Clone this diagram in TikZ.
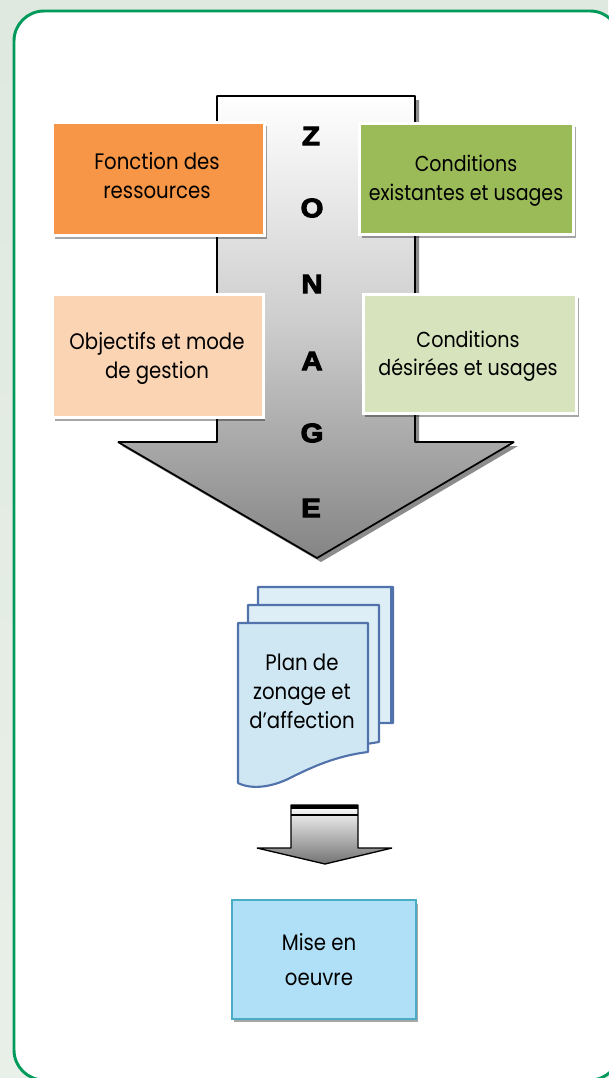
\documentclass[tikz,border=0pt]{standalone}
\usepackage{fontspec}
\setmainfont{Poppins}[FakeStretch=0.88]
\newfontfamily\lettrefont{Liberation Sans}[BoldFeatures={FakeStretch=1.1,FakeBold=4}]
\usepackage{tikz}
\usetikzlibrary{shadows,positioning}
\definecolor{fondvert}{HTML}{DFE9DF}
\definecolor{cadrevert}{HTML}{009B5A}
\definecolor{orange1}{HTML}{F79646}
\definecolor{orange2}{HTML}{FBD4B4}
\definecolor{vert1}{HTML}{9BBB59}
\definecolor{vert2}{HTML}{D7E3BC}
\definecolor{bleu1}{HTML}{AFE0F7}
\definecolor{bleu2}{HTML}{4BACC6}
\definecolor{feuille}{HTML}{CFE7F3}
\definecolor{feuillebord}{HTML}{5272AB}
\tikzset{
	ombre/.style={drop shadow={shadow xshift=1.5pt,shadow yshift=-2.5pt,fill=black,opacity=.35}},
	boite/.style={draw=white,line width=2.2pt,ombre,inner sep=0pt},
	lettre/.style={inner sep=0pt,font=\lettrefont\bfseries\fontsize{20}{22}\selectfont},
	texte/.style={inner sep=0pt,align=center,font=\fontsize{16.8}{21.7}\selectfont},
	feuillet/.style={draw=feuillebord,line width=1.6pt,fill=feuille!70!white,line join=round}
}
\begin{document}
\begin{tikzpicture}[x=0.75pt,y=-0.75pt]
	\useasboundingbox (0,0) rectangle (608,1078);
	\shade[top color=fondvert,bottom color=fondvert!70!white] (0,0) rectangle (608,1078);
	\draw[cadrevert,fill=white,line width=2.2pt,rounded corners=22.5pt] (14,11) rectangle (620,1080);
	% grande fleche
	\fill[black!45] (221,100) -- (419,100) -- (419,446) -- (518,446) -- (321,562) -- (122,446) -- (221,446) -- cycle;
	\draw[black,line width=1.3pt,line join=bevel,top color=white,bottom color=black!48,middle color=black!20] (217,96) -- (415,96) -- (415,442) -- (514,442) -- (317,558) -- (118,442) -- (217,442) -- cycle;
	\node[lettre] (z) at (311,136) {Z};
	\node[lettre] (o) at (312,208) {O};
	\node[lettre] (n) at (312,284) {N};
	\node[lettre] (a) at (312,361) {A};
	\node[lettre] (g) at (312,433) {G};
	\node[lettre] (e) at (311,508) {E};
	% les quatre boites
	\node[boite,fill=orange1,minimum width=159pt,minimum height=85pt] (fonction) at (158.5,179) {};
	\node[texte] (fonction texte) at (157,176) {Fonction des\\ressources};
	\node[boite,fill=vert1,minimum width=160.5pt,minimum height=83.5pt] (existantes) at (466.5,179) {};
	\node[texte,font=\fontsize{16.2}{21.9}\selectfont] (existantes texte) at (466,181) {Conditions\\existantes et usages};
	\node[boite,fill=orange2,minimum width=158pt,minimum height=92.5pt] (objectifs) at (158,356) {};
	\node[texte] (objectifs texte) at (157,358) {Objectifs et mode\\de gestion};
	\node[boite,fill=vert2,minimum width=160pt,minimum height=89.5pt] (desirees) at (470,354) {};
	\node[texte,font=\fontsize{16.3}{21.2}\selectfont] (desirees texte) at (468,356) {Conditions\\d\'esir\'ees et usages};
	% les feuilles
	\draw[feuillet] (258,587) -- (393,587) -- (393,723) -- (370,723) -- (258,740) -- cycle;
	\fill[feuillebord] (390,587) rectangle (394,723);
	\draw[feuillet] (248,605) -- (379,605) -- (379,742) -- (360,745) -- (248,760) -- cycle;
	\draw[feuillet,fill=feuille] (238,623) -- (368,623) -- (368,752) .. controls (335,756) and (310,768) .. (290,778) .. controls (272,787) and (252,790) .. (238,783) -- cycle;
	\node[texte] (plan) at (302,691) {Plan de\\zonage et\\d’affection};
	% petite fleche
	\draw[black,line width=1pt,line join=bevel,top color=white,bottom color=black!55] (291,805) -- (358,805) -- (358,848) -- (392,848) -- (325,864) -- (257,848) -- (291,848) -- cycle;
	\fill[black] (291,805) rectangle (358,809);
	\draw[black,line width=1pt] (291,815) -- (358,815);
	% mise en oeuvre
	\node[boite,draw=bleu2,fill=bleu1,line width=1.8pt,minimum width=137.7pt,minimum height=89pt] (mise) at (324,959.5) {};
	\node[texte,font=\fontsize{16.8}{26.2}\selectfont] (mise texte) at (319,959.5) {Mise en\\oeuvre};
\end{tikzpicture}
\end{document}
